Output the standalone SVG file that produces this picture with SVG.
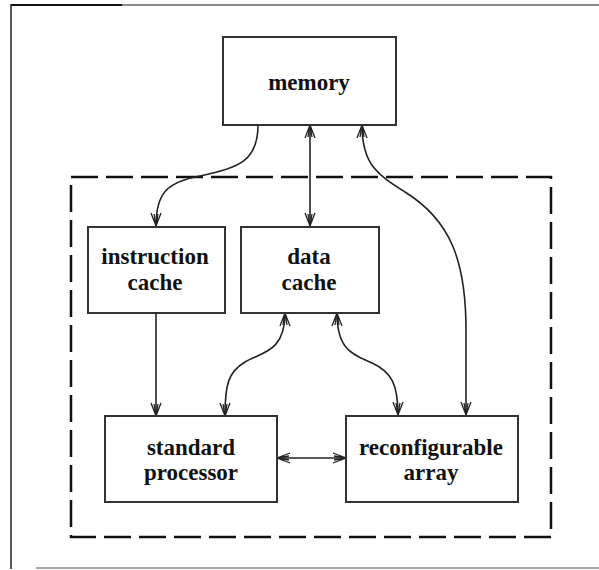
<svg xmlns="http://www.w3.org/2000/svg" width="599" height="570" viewBox="0 0 599 570">
  <style>
    .box { fill: #fff; stroke: #333; stroke-width: 2; }
    .lbl { font-family: "Liberation Serif", "Times New Roman", serif; font-size: 23px; font-weight: bold; fill: #111; text-anchor: middle; }
    .conn { fill: none; stroke: #222; stroke-width: 1.6; }
    .frame { fill: none; stroke-linecap: butt; }
  </style>
  <defs>
    <marker id="arr" viewBox="-14 -7 16 14" refX="0" refY="0" markerWidth="16" markerHeight="14" markerUnits="userSpaceOnUse" orient="auto-start-reverse">
      <path d="M-13,-5 L0,0 L-13,5 M-12,-2 L0,0 L-12,2" fill="none" stroke="#222" stroke-width="1.3"/>
    </marker>
  </defs>
  <rect width="599" height="570" fill="#fff"/>
  <g id="frame">
    <line class="frame" x1="11" y1="5" x2="122" y2="5" stroke="#111" stroke-width="2"/>
    <line class="frame" x1="122" y1="5" x2="599" y2="5" stroke="#666" stroke-width="1.5"/>
    <line class="frame" x1="11" y1="4" x2="11" y2="569" stroke="#222" stroke-width="1.5"/>
    <line class="frame" x1="36" y1="568" x2="599" y2="568" stroke="#888" stroke-width="1.5"/>
  </g>
  <g id="chip-boundary">
    <rect x="71" y="177" width="480" height="360" fill="none" stroke="#111" stroke-width="2.5" stroke-dasharray="27 8"/>
  </g>
  <g id="connectors">
    <path class="conn" d="M258,125 C258,160 240,168 200,176 C168,182 156,192 156,226" marker-end="url(#arr)"/>
    <path class="conn" d="M310,125 L310,226" marker-start="url(#arr)" marker-end="url(#arr)"/>
    <path class="conn" d="M362,125 C362,165 378,175 405,192 C450,220 466,260 466,330 L466,415" marker-start="url(#arr)" marker-end="url(#arr)"/>
    <path class="conn" d="M156,313 L156,416" marker-end="url(#arr)"/>
    <path class="conn" d="M285,313 C285,352 262,352 245,362 C228,372 225,385 225,416" marker-start="url(#arr)" marker-end="url(#arr)"/>
    <path class="conn" d="M337,313 C337,352 355,355 372,363 C392,372 398,385 398,415" marker-start="url(#arr)" marker-end="url(#arr)"/>
    <path class="conn" d="M277,458 L346,458" stroke="#555" marker-start="url(#arr)" marker-end="url(#arr)"/>
  </g>
  <g id="memory">
    <rect class="box" x="223" y="37" width="173" height="88"/>
    <text class="lbl" x="309" y="90">memory</text>
  </g>
  <g id="instruction-cache">
    <rect class="box" x="88" y="227" width="137" height="86"/>
    <text class="lbl" x="155" y="264">instruction</text>
    <text class="lbl" x="155" y="290">cache</text>
  </g>
  <g id="data-cache">
    <rect class="box" x="241" y="227" width="138" height="86"/>
    <text class="lbl" x="309" y="264">data</text>
    <text class="lbl" x="309" y="290">cache</text>
  </g>
  <g id="standard-processor">
    <rect class="box" x="105" y="416" width="172" height="86"/>
    <text class="lbl" x="191" y="455">standard</text>
    <text class="lbl" x="191" y="480">processor</text>
  </g>
  <g id="reconfigurable-array">
    <rect class="box" x="346" y="416" width="172" height="86"/>
    <text class="lbl" x="431" y="455">reconfigurable</text>
    <text class="lbl" x="431" y="480">array</text>
  </g>
</svg>
